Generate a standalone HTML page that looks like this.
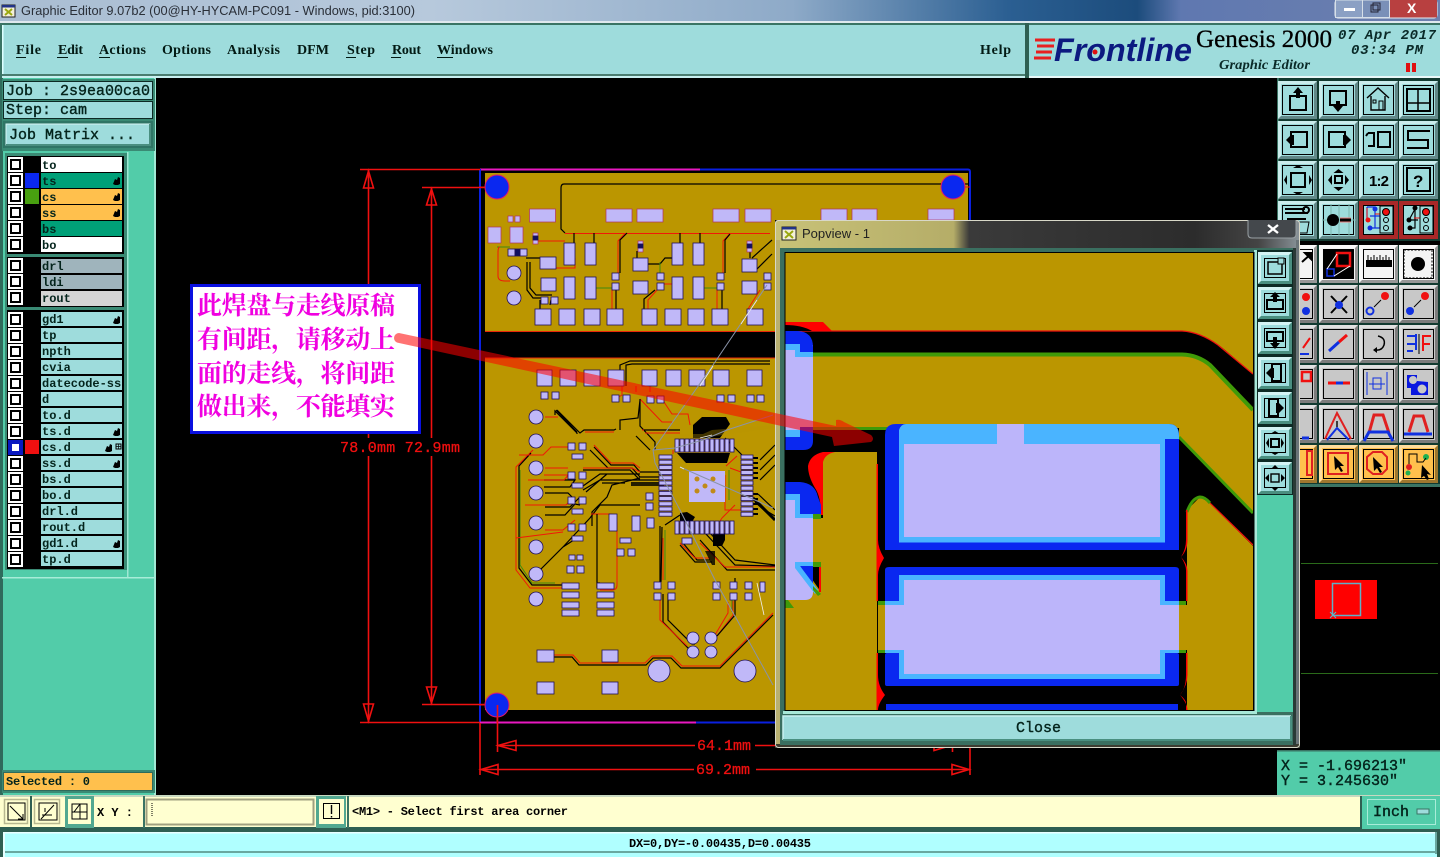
<!DOCTYPE html>
<html><head><meta charset="utf-8"><title>Graphic Editor</title>
<style>
html,body{margin:0;padding:0;background:#000;width:1440px;height:857px;overflow:hidden}
svg{display:block}
.m{font-family:"Liberation Mono",monospace;font-size:12px;font-weight:bold;fill:#04241c}
.l{font-family:"Liberation Mono",monospace;font-size:15px;fill:#04241c;stroke:#04241c;stroke-width:.4}
.mn{font-family:"Liberation Serif",serif;font-size:14px;font-weight:bold;fill:#021a14}
.dm{font-family:"Liberation Mono",monospace;font-size:15px;fill:#f01010;stroke:#f01010;stroke-width:.3}
.cn{font-family:"Liberation Serif","Noto Serif CJK SC",serif;font-size:25px;font-weight:bold;fill:#f000e0}
.p{fill:#c0b8f8;stroke:#b03060;stroke-width:.7}
.pk{fill:#c0b8f8;stroke:#20105a;stroke-width:.8}
.r{fill:none;stroke:#f01808;stroke-width:1}
.k{fill:none;stroke:#000;stroke-width:1.2}
.g{fill:none;stroke:#3f8a10;stroke-width:1}
.gl{fill:none;stroke:#8a93a8;stroke-width:1}
.i{fill:none;stroke:#000;stroke-width:2}
</style></head><body>
<svg xmlns="http://www.w3.org/2000/svg" width="1440" height="857" viewBox="0 0 1440 857">
<defs>
<linearGradient id="tb" x1="0" x2="1" y1="0" y2="0">
<stop offset="0" stop-color="#a9bdd2"/><stop offset=".3" stop-color="#b7c9dc"/><stop offset=".55" stop-color="#8eaac8"/><stop offset=".7" stop-color="#2b5f92"/><stop offset=".79" stop-color="#1c4c7c"/><stop offset=".82" stop-color="#5f78b0"/><stop offset="1" stop-color="#6d80ae"/>
</linearGradient>
<linearGradient id="pt" x1="0" x2="1" y1="0" y2="0">
<stop offset="0" stop-color="#c8c278"/><stop offset=".34" stop-color="#b5ad68"/><stop offset=".37" stop-color="#3a3a3a"/><stop offset=".8" stop-color="#2c2c2c"/><stop offset=".92" stop-color="#444"/><stop offset="1" stop-color="#8a949a"/>
</linearGradient>
<g id="b"><rect width="39" height="38"/><polygon points="0,0 39,0 36,3 3,3 3,35 0,38" fill="#fff" fill-opacity=".45"/><polygon points="39,0 39,38 0,38 3,35 36,35 36,3" fill="#000" fill-opacity=".38"/><rect x="4.5" y="4.5" width="30" height="29" fill="none" stroke="#000"/></g>
<g id="pb"><rect width="34" height="32" fill="#9edcdc"/><polygon points="0,0 34,0 31,3 3,3 3,29 0,32" fill="#d4f4f4"/><polygon points="34,0 34,32 0,32 3,29 31,29 31,3" fill="#4a8f80"/><rect x="6.5" y="6.5" width="21" height="19" fill="none" stroke="#000"/></g>
<g id="cb"><rect width="15" height="15" fill="#fff"/><rect x="2" y="2" width="11" height="11" fill="#000"/><rect x="4" y="4" width="7" height="7" fill="#fff"/></g>
<path id="h" d="M0,7 L2,2 L4,3 L5,0 L7,1 L7,3 L7,7 L5,8 L2,8 Z" fill="#000"/>
</defs>

<rect width="1440" height="857" fill="#000"/>

<!-- title bar -->
<rect width="1440" height="21" fill="url(#tb)"/>
<rect y="21" width="1440" height="2" fill="#dfe8ee"/>
<rect x="2" y="5" width="13" height="12" fill="#f4f0d8" stroke="#222"/><rect x="2" y="5" width="13" height="2.5" fill="#223388"/>
<path d="M5,9 L12,15 M12,9 L5,15" stroke="#9aa810" stroke-width="2"/>
<text x="21" y="15" font-family="Liberation Sans,sans-serif" font-size="13" fill="#2a2f38" textLength="394" lengthAdjust="spacingAndGlyphs">Graphic Editor 9.07b2 (00@HY-HYCAM-PC091 - Windows, pid:3100)</text>
<rect x="1335" y="0" width="102" height="18" rx="3" fill="#6f84ae" stroke="#e6ecf2"/>
<rect x="1335.5" y="0" width="27" height="17.5" fill="#8ba0c4" stroke="#d6dfe8"/>
<rect x="1362.5" y="0" width="27" height="17.5" fill="#7a90b8" stroke="#d6dfe8"/>
<rect x="1390" y="0" width="47" height="17.5" fill="#b84040"/>
<rect x="1344" y="8" width="11" height="3" fill="#fff"/>
<rect x="1371" y="5" width="7" height="7" fill="none" stroke="#223" stroke-width="1"/><rect x="1373" y="3" width="7" height="7" fill="none" stroke="#223" stroke-width="1"/>
<text x="1407" y="13" font-family="Liberation Sans,sans-serif" font-size="14" font-weight="bold" fill="#fff">X</text>

<!-- menu bar -->
<rect x="0" y="23" width="1440" height="55" fill="#3a7464"/>
<rect x="2" y="25" width="1023" height="50" fill="#9edcdc"/>
<rect x="2" y="25" width="1.5" height="50" fill="#dff"/>
<rect x="2" y="74" width="1023" height="2" fill="#4a7d70"/>
<rect x="1025" y="23" width="4" height="55" fill="#2f5f52"/>
<rect x="1029" y="25" width="411" height="52" fill="#9edcdc"/>
<rect x="1029" y="76" width="411" height="2" fill="#e8f8f8"/>
<rect x="2" y="76" width="1023" height="2" fill="#c8f0f0"/>
<text class="mn" x="16" y="54" textLength="25">File</text>
<text class="mn" x="58" y="54" textLength="25">Edit</text>
<text class="mn" x="99" y="54" textLength="47">Actions</text>
<text class="mn" x="162" y="54" textLength="49">Options</text>
<text class="mn" x="227" y="54" textLength="53">Analysis</text>
<text class="mn" x="297" y="54" textLength="32">DFM</text>
<text class="mn" x="347" y="54" textLength="28">Step</text>
<text class="mn" x="392" y="54" textLength="29">Rout</text>
<text class="mn" x="437" y="54" textLength="56">Windows</text>
<text class="mn" x="980" y="54" textLength="31">Help</text>
<path d="M16,57.5h10M57,57.5h11M99,57.5h11M346,57.5h10M391,57.5h10M437,57.5h16" stroke="#021a14" stroke-width="1"/>

<!-- logo -->
<path d="M1035,40 H1055 M1037,46 H1054 M1036,52 H1052 M1034,58 H1051" stroke="#e82020" stroke-width="3"/>
<text x="1054" y="61" font-family="Liberation Sans,sans-serif" font-size="32" font-style="italic" font-weight="bold" fill="#0c1a80" textLength="138" lengthAdjust="spacingAndGlyphs">Frontline</text>
<circle cx="1095" cy="52" r="2.5" fill="#e01010"/>
<text x="1196" y="47" font-family="Liberation Serif,serif" font-size="25" fill="#000" stroke="#000" stroke-width=".3" textLength="136" lengthAdjust="spacingAndGlyphs">Genesis 2000</text>
<text x="1219" y="69" font-family="Liberation Serif,serif" font-size="14" font-style="italic" font-weight="bold" fill="#0a2a28" textLength="91" lengthAdjust="spacingAndGlyphs">Graphic Editor</text>
<text x="1338" y="39" font-family="Liberation Mono,monospace" font-size="14" font-style="italic" font-weight="bold" fill="#0a2a28" textLength="98">07 Apr 2017</text>
<text x="1351" y="54" font-family="Liberation Mono,monospace" font-size="14" font-style="italic" font-weight="bold" fill="#0a2a28" textLength="72">03:34 PM</text>
<rect x="1406" y="63" width="4" height="9" fill="#e01010"/><rect x="1412" y="63" width="4" height="9" fill="#e01010"/>

<!-- left panel -->
<rect x="0" y="78" width="155" height="718" fill="#52cca9"/>
<rect x="0" y="78" width="3" height="718" fill="#2f6b5c"/>
<rect x="154" y="78" width="2" height="718" fill="#9fe8d4"/>
<rect x="2" y="79" width="153" height="72" fill="#3a8a74"/>
<rect x="3.5" y="81.5" width="149" height="18" fill="#9edcdc" stroke="#0d2a24"/>
<rect x="3.5" y="101.5" width="149" height="17" fill="#9edcdc" stroke="#0d2a24"/>
<text class="l" x="6" y="95">Job : 2s9ea00ca0</text>
<text class="l" x="6" y="114">Step: cam</text>
<rect x="3" y="121" width="150" height="27" fill="#2f7565"/>
<rect x="6" y="124" width="144" height="21" fill="#9edcdc" stroke="#d8f6f6"/>
<path d="M150,124 V145 H6" fill="none" stroke="#4a8f80" stroke-width="2"/>
<text class="l" x="9" y="139">Job Matrix ...</text>

<rect x="5" y="153" width="122" height="417" fill="#3a8a74"/>
<rect x="127" y="152" width="27" height="425" fill="#52cca9"/>
<rect x="127" y="152" width="1.5" height="425" fill="#9fe8d4"/>
<rect x="2" y="577" width="152" height="1.5" fill="#a8ecd8"/>

<rect x="7" y="156" width="117" height="98" fill="#000"/>
<rect x="7" y="257" width="117" height="50" fill="#000"/>
<rect x="7" y="310" width="117" height="259" fill="#000"/>

<!-- group 1 -->
<use href="#cb" x="8" y="157"/><rect x="41" y="157" width="81" height="15" fill="#fff"/><text class="m" x="42" y="169">to</text>
<use href="#cb" x="8" y="173"/><rect x="25" y="173" width="14" height="15" fill="#0a28f0"/><rect x="41" y="173" width="81" height="15" fill="#00a078"/><text class="m" x="42" y="185">ts</text><use href="#h" x="113" y="177"/>
<use href="#cb" x="8" y="189"/><rect x="25" y="189" width="14" height="15" fill="#48a010"/><rect x="41" y="189" width="81" height="15" fill="#ffc04d"/><text class="m" x="42" y="201">cs</text><use href="#h" x="113" y="193"/>
<use href="#cb" x="8" y="205"/><rect x="41" y="205" width="81" height="15" fill="#ffc04d"/><text class="m" x="42" y="217">ss</text><use href="#h" x="113" y="209"/>
<use href="#cb" x="8" y="221"/><rect x="41" y="221" width="81" height="15" fill="#00a078"/><text class="m" x="42" y="233">bs</text>
<use href="#cb" x="8" y="237"/><rect x="41" y="237" width="81" height="15" fill="#fff"/><text class="m" x="42" y="249">bo</text>
<!-- group 2 -->
<use href="#cb" x="8" y="258"/><rect x="41" y="259" width="81" height="14" fill="#9fb4bc"/><text class="m" x="42" y="270">drl</text>
<use href="#cb" x="8" y="274"/><rect x="41" y="275" width="81" height="14" fill="#9fb4bc"/><text class="m" x="42" y="286">ldi</text>
<use href="#cb" x="8" y="290"/><rect x="41" y="291" width="81" height="15" fill="#d4d4d4"/><text class="m" x="42" y="302">rout</text>
<!-- group 3 -->
<g fill="#9edcdc">
<rect x="41" y="312" width="81" height="14"/><rect x="41" y="328" width="81" height="14"/><rect x="41" y="344" width="81" height="14"/><rect x="41" y="360" width="81" height="14"/><rect x="41" y="376" width="81" height="14"/><rect x="41" y="392" width="81" height="14"/><rect x="41" y="408" width="81" height="14"/><rect x="41" y="424" width="81" height="14"/><rect x="41" y="440" width="81" height="14"/><rect x="41" y="456" width="81" height="14"/><rect x="41" y="472" width="81" height="14"/><rect x="41" y="488" width="81" height="14"/><rect x="41" y="504" width="81" height="14"/><rect x="41" y="520" width="81" height="14"/><rect x="41" y="536" width="81" height="14"/><rect x="41" y="552" width="81" height="14"/>
</g>
<use href="#cb" x="8" y="312"/><use href="#cb" x="8" y="328"/><use href="#cb" x="8" y="344"/><use href="#cb" x="8" y="360"/><use href="#cb" x="8" y="376"/><use href="#cb" x="8" y="392"/><use href="#cb" x="8" y="408"/><use href="#cb" x="8" y="424"/><use href="#cb" x="8" y="440"/><use href="#cb" x="8" y="456"/><use href="#cb" x="8" y="472"/><use href="#cb" x="8" y="488"/><use href="#cb" x="8" y="504"/><use href="#cb" x="8" y="520"/><use href="#cb" x="8" y="536"/><use href="#cb" x="8" y="552"/>
<rect x="8" y="440" width="15" height="15" fill="#0a18c0"/><rect x="12" y="444" width="7" height="7" fill="#fff"/><rect x="25" y="440" width="14" height="14" fill="#f01010"/>
<text class="m" x="42" y="323">gd1</text><text class="m" x="42" y="339">tp</text><text class="m" x="42" y="355">npth</text><text class="m" x="42" y="371">cvia</text><text class="m" x="42" y="387">datecode-ss</text><text class="m" x="42" y="403">d</text><text class="m" x="42" y="419">to.d</text><text class="m" x="42" y="435">ts.d</text><text class="m" x="42" y="451">cs.d</text><text class="m" x="42" y="467">ss.d</text><text class="m" x="42" y="483">bs.d</text><text class="m" x="42" y="499">bo.d</text><text class="m" x="42" y="515">drl.d</text><text class="m" x="42" y="531">rout.d</text><text class="m" x="42" y="547">gd1.d</text><text class="m" x="42" y="563">tp.d</text>
<use href="#h" x="113" y="316"/><use href="#h" x="113" y="428"/><use href="#h" x="105" y="444"/><use href="#h" x="113" y="460"/><use href="#h" x="113" y="540"/>
<rect x="116" y="444" width="5" height="5" fill="none" stroke="#000"/><path d="M118.5,444v5M116,446.5h5" stroke="#000" stroke-width=".7"/>

<rect x="2" y="770" width="153" height="23" fill="#3a8a74"/>
<rect x="3.5" y="772.5" width="149" height="18" fill="#ffc04d" stroke="#2f6b5c"/>
<text class="m" x="6" y="785" textLength="84">Selected : 0</text>

<!-- PCB outline -->
<path d="M480,169.5 H700" stroke="#e818c0" stroke-width="2"/>
<path d="M700,169.5 H968 Q970,169.5 970,172 V220" stroke="#0a20e0" stroke-width="2" fill="none"/>
<path d="M480,169 V723" stroke="#0a20e0" stroke-width="2"/>
<path d="M480,722.5 H696" stroke="#e818c0" stroke-width="2"/>
<path d="M696,722.5 H775" stroke="#0a20e0" stroke-width="2"/>

<!-- boards -->
<rect x="485" y="173" width="290" height="158" fill="#bb9600"/>
<rect x="775" y="173" width="193" height="47" fill="#bb9600"/>
<rect x="485" y="358" width="290" height="352" fill="#bb9600"/>
<path d="M485,331.5 H775 M485,358 H775" stroke="#e82808" stroke-width="1"/>

<!-- traces top -->
<g>
<path class="k" d="M968,184 H564 Q561,184 561,188 V229 L565,233"/>
<path class="r" d="M565,233.5 H625 L618,241 V273 M627,233.5 H730 L723,241 V273 M730,233.5 H770 M533,241 H565"/>
<path class="k" d="M574,233 V243 M594,233 V243 M680,233 V243 M700,233 V243 M627,233 L620,240 V273 M730,234 L725,240 V273"/>
<path class="r" d="M556,268 H575 V258"/>
<path class="k" d="M526,258 H540 M527,262 V290 L533,298 H541 M530,262 V288 L536,295 H552 M648,264 H660 L665,258 H672"/>
<path class="g" d="M660,262 V273 M596,288 H612 M704,288 H717 M497,247 H510"/>
<path class="r" d="M500,247 Q498,247 498,252 V276 Q498,281 505,281 H510 M612,290 V309 M660,284 H672 M760,290 L748,309 M657,290 L648,300 V309 M717,290 V309"/>
<path class="k" d="M616,290 V309 M722,290 V309 M644,309 V299 L655,290 M756,270 L772,254 M752,258 L772,240"/>
<path class="k" d="M637,251 V258 M750,250 V258 M540,312 V300 M550,305 L551,300"/>
</g>
<!-- pads top -->
<circle cx="497" cy="187" r="12" fill="#0a28f0" stroke="#e01870"/>
<circle cx="953" cy="187" r="12" fill="#0a28f0" stroke="#e01870"/>
<path d="M479,187 H485 M965,187 H970" stroke="#f01010"/>
<g class="pk">
<rect x="529.5" y="209" width="26" height="13" class="p"/><rect x="606" y="209" width="26" height="13" class="p"/><rect x="637" y="209" width="26" height="13" class="p"/><rect x="713" y="209" width="26" height="13" class="p"/><rect x="745" y="209" width="26" height="13" class="p"/><rect x="821" y="209" width="26" height="13" class="p"/><rect x="852" y="209" width="25" height="13" class="p"/><rect x="928" y="209" width="26" height="11" class="p"/>
<rect x="488" y="227" width="13" height="16" class="p"/><rect x="510" y="227" width="13" height="16" class="p"/>
<rect x="508" y="216" width="5" height="6" class="p"/><rect x="515" y="216" width="5" height="6" class="p"/>
<rect x="533" y="233" width="5" height="3" class="p"/><rect x="533" y="240" width="5" height="4" class="p"/><rect x="533" y="236" width="5" height="4" fill="#101060"/>
<rect x="638" y="241" width="5" height="3" class="p"/><rect x="638" y="248" width="5" height="4" class="p"/><rect x="638" y="244" width="5" height="4" fill="#101060"/>
<rect x="747" y="241" width="5" height="3" class="p"/><rect x="747" y="248" width="5" height="4" class="p"/><rect x="747" y="244" width="5" height="4" fill="#101060"/>
<rect x="564" y="243" width="11" height="22"/><rect x="585" y="243" width="11" height="22"/><rect x="672" y="243" width="11" height="22"/><rect x="693" y="243" width="11" height="22"/>
<rect x="564" y="277" width="11" height="22"/><rect x="585" y="277" width="11" height="22"/><rect x="672" y="277" width="11" height="22"/><rect x="693" y="277" width="11" height="22"/>
<rect x="540" y="257" width="16" height="12"/><rect x="633" y="258" width="15" height="13"/><rect x="742" y="259" width="15" height="13"/>
<rect x="541" y="278" width="15" height="13"/><rect x="633" y="281" width="15" height="13"/><rect x="742" y="281" width="15" height="13"/>
<rect x="612" y="273" width="7" height="7"/><rect x="612" y="283" width="7" height="7"/><rect x="657" y="273" width="7" height="7"/><rect x="657" y="283" width="7" height="7"/><rect x="717" y="273" width="7" height="7"/><rect x="717" y="283" width="7" height="7"/><rect x="764" y="273" width="7" height="7"/><rect x="764" y="283" width="7" height="7"/>
<rect x="535" y="309" width="16" height="16"/><rect x="559" y="309" width="16" height="16"/><rect x="584" y="309" width="16" height="16"/><rect x="607" y="309" width="16" height="16"/><rect x="642" y="309" width="15" height="16"/><rect x="665" y="309" width="16" height="16"/><rect x="688" y="309" width="16" height="16"/><rect x="712" y="309" width="16" height="16"/><rect x="747" y="309" width="16" height="16"/>
<rect x="541" y="297" width="7" height="7"/><rect x="551" y="297" width="7" height="7"/>
<rect x="508" y="249" width="7" height="7"/><rect x="520" y="249" width="7" height="7"/><rect x="515" y="249" width="5" height="7" fill="#101060"/>
<circle cx="514" cy="273" r="7"/><circle cx="514" cy="298" r="7"/>
</g>

<!-- traces bottom -->
<path class="r" d="M533,450 L516,467 V570 L530,588 H562"/>
<path class="k" d="M531,453 L519,466 V568 L532,585 H562"/>
<path class="g" d="M520,470 V565 L532,583 H555"/>
<path class="r" d="M554,655 H573 L580,663 H645 L652,656 H672 L682,666 H720 L773,613"/>
<path class="k" d="M554,657 H572 L579,665 H646 L653,658 H671 L681,668 H720 L773,615"/>
<path class="k" d="M555,415 V411 L577,433 V434 M557,410 L580,433 L584,430 H614 L616,429 M556,410 L577,432"/>
<path class="r" d="M585,432 H614 M545,417 H558 M545,468 H553 M553,468 H568 M570,447 H551 L543,455 L519,455"/>
<path class="k" d="M594,447 L611,465 H634 L640,472 H659 M590,450 L608,468 H632 L640,477 H659 M583,470 H630 L640,480 H659"/>
<path class="r" d="M594,445 L611,463 H633 L640,468 M583,468 H632 L640,472"/>
<path class="k" d="M583,486 L600,474 H640 M586,492 L607,474 M583,490 L600,480 H640 M544,480 H575 L570,487 H544 M545,493 H568 L575,500 M545,507 H570 L580,497 M545,515 H565 L575,504 L580,505"/>
<path class="r" d="M544,475 H568 M544,505 H566 L574,497 M525,505 H557 M528,480 H564 L571,472 M545,530 H563 L575,520 M516,538 L563,532"/>
<path class="k" d="M536,574 L563,547 L580,536 M563,547 L590,518 L600,505 H640 M592,526 V512 L607,497 L612,485 L640,478 M602,483 H625"/>
<path class="r" d="M591,514 H610 Q617,514 617,525 V585 Q617,590 612,590 H600"/>
<path class="k" d="M597,514 V588 M597,583 H600"/>
<path class="r" d="M622,370 V395 L617,398 M636,386 V392 M650,386 V392 M640,399 L662,422 H672 M662,399 L672,414 H688 L690,425"/>
<path class="k" d="M624,386 L620,375 V365 L630,361 H770 M626,386 V365 L632,364 H770 M640,400 L638,418 L620,420 V430 M640,399 V426 L655,442 L655,450"/>
<path class="r" d="M642,430 H677 M645,433 H680"/>
<path class="k" d="M644,430 H680 M636,436 L650,450"/>
<path class="k" d="M660,526 V585 M662,527 L661,582 M665,525 L680,515 M668,594 V620 L692,644 H695 M663,594 V622 L688,648 H693"/>
<path class="g" d="M665,530 V580"/>
<path class="r" d="M660,594 V620 L687,646 M663,538 V580"/>
<path class="k" d="M683,543 L697,560 H710 M680,545 L695,562 H712 M700,540 L727,570 H775 M705,533 L735,565 L775,566 M710,533 L735,560 L775,565 M735,578 V585"/>
<path class="r" d="M680,543 L695,558 H710 M700,543 L725,567 H775"/>
<path class="r" d="M728,602 V613 L715,635 M733,601 V615 L717,636"/>
<path class="g" d="M732,600 V612"/>
<path class="k" d="M735,600 V615 L717,636"/>
<path class="k" d="M725,438 L742,455 M760,460 L775,445 M760,470 L775,455 M760,480 L775,465 M758,494 L775,510 M755,502 L775,520 M765,510 L775,516"/>
<path d="M753,498 L775,520" stroke="#000" stroke-width="3"/>
<path class="r" d="M725,475 V510 H741 M730,468 L741,472 M726,466 L737,456 M673,454 V450 M735,505 L722,518 M722,518 L720,521"/>
<path class="g" d="M729,470 V500"/>
<path d="M753,458 H758 M753,463 H758 M753,468 H758 M753,473 H758 M753,478 H758 M753,494 H758 M753,499 H758 M753,504 H758 M753,509 H758 M753,514 H758" stroke="#000" stroke-width="2"/>

<!-- black blobs -->
<path d="M693,425 L702,417 H726 L730,424 L720,438 H693 Z M677,453 H730 L727,463 H686 Z" fill="#000"/>
<path d="M673,437 L680,434 H703 L712,430 L775,425 V428 L700,438 H675 Z" fill="#bb9600" fill-opacity=".35"/>
<path d="M713,533 H725 V540 L722,546 H713 Z M680,513 L687,512 L695,517 L692,522 H680 Z" fill="#000"/>
<path d="M631,482 H664 V486 H631 Z" fill="#000" opacity=".8"/>
<path d="M705,551 H715 V565 H712 Z" fill="#000" opacity=".8"/>

<!-- pads bottom -->
<g class="pk">
<rect x="537" y="370" width="15" height="16"/><rect x="560" y="370" width="16" height="16"/><rect x="584" y="370" width="16" height="16"/><rect x="608" y="370" width="16" height="16"/><rect x="642" y="370" width="15" height="16"/><rect x="666" y="370" width="15" height="16"/><rect x="689" y="370" width="16" height="16"/><rect x="713" y="370" width="16" height="16"/><rect x="747" y="370" width="15" height="16"/>
<rect x="541" y="392" width="7" height="7"/><rect x="552" y="392" width="7" height="7"/><rect x="612" y="395" width="7" height="7"/><rect x="623" y="395" width="7" height="7"/><rect x="647" y="396" width="7" height="7"/><rect x="657" y="396" width="7" height="7"/><rect x="717" y="395" width="7" height="7"/><rect x="728" y="395" width="7" height="7"/><rect x="747" y="395" width="7" height="7"/><rect x="757" y="395" width="7" height="7"/>
<circle cx="536" cy="417" r="7"/><circle cx="536" cy="441" r="7"/><circle cx="536" cy="468" r="7"/><circle cx="536" cy="493" r="7"/><circle cx="536" cy="523" r="7"/><circle cx="536" cy="547" r="7"/><circle cx="536" cy="574" r="7"/><circle cx="536" cy="599" r="7"/>
<rect x="568" y="443" width="7" height="7"/><rect x="579" y="443" width="7" height="7"/><rect x="568" y="472" width="7" height="7"/><rect x="579" y="472" width="7" height="7"/><rect x="568" y="497" width="7" height="7"/><rect x="579" y="497" width="7" height="7"/><rect x="568" y="524" width="7" height="7"/><rect x="579" y="524" width="7" height="7"/>
<rect x="572" y="454" width="11" height="5"/><rect x="572" y="483" width="11" height="5"/><rect x="572" y="509" width="11" height="5"/><rect x="572" y="536" width="11" height="5"/>
<rect x="689" y="471" width="36" height="31" fill="#c0b8f8" stroke="none"/>
<rect x="646" y="493" width="7" height="7"/><rect x="646" y="503" width="7" height="7"/><rect x="609" y="514" width="8" height="17"/><rect x="632" y="516" width="8" height="15"/><rect x="647" y="518" width="7" height="10"/>
<rect x="620" y="538" width="11" height="5"/><rect x="617" y="549" width="7" height="7"/><rect x="628" y="549" width="7" height="7"/><rect x="682" y="538" width="10" height="6"/>
<rect x="562" y="583" width="17" height="6"/><rect x="562" y="592" width="17" height="6"/><rect x="562" y="602" width="17" height="6"/><rect x="562" y="610" width="17" height="6"/>
<rect x="597" y="583" width="17" height="6"/><rect x="597" y="592" width="17" height="6"/><rect x="597" y="602" width="17" height="6"/><rect x="597" y="610" width="17" height="6"/>
<rect x="569" y="555" width="6" height="5"/><rect x="577" y="555" width="6" height="5"/><rect x="567" y="566" width="7" height="7"/><rect x="577" y="566" width="7" height="7"/>
<rect x="654" y="582" width="7" height="7"/><rect x="668" y="582" width="7" height="7"/><rect x="654" y="593" width="7" height="7"/><rect x="668" y="593" width="7" height="7"/>
<rect x="713" y="582" width="7" height="7"/><rect x="713" y="593" width="7" height="7"/><rect x="730" y="582" width="7" height="7"/><rect x="730" y="593" width="7" height="7"/><rect x="745" y="582" width="7" height="7"/><rect x="745" y="593" width="7" height="7"/><rect x="760" y="582" width="5" height="10"/>
<circle cx="693" cy="638" r="6"/><circle cx="711" cy="638" r="6"/><circle cx="693" cy="652" r="6"/><circle cx="711" cy="652" r="6"/>
<circle cx="659" cy="671" r="11"/><circle cx="745" cy="671" r="11"/>
<rect x="537" y="650" width="17" height="12"/><rect x="602" y="650" width="16" height="12"/><rect x="537" y="682" width="17" height="12"/><rect x="602" y="682" width="16" height="12"/>
<!-- IC fingers top -->
<rect x="675" y="439" width="4" height="13"/><rect x="680" y="439" width="4" height="13"/><rect x="685" y="439" width="4" height="13"/><rect x="690" y="439" width="4" height="13"/><rect x="695" y="439" width="4" height="13"/><rect x="700" y="439" width="4" height="13"/><rect x="705" y="439" width="4" height="13"/><rect x="710" y="439" width="4" height="13"/><rect x="715" y="439" width="4" height="13"/><rect x="720" y="439" width="4" height="13"/><rect x="725" y="439" width="4" height="13"/><rect x="730" y="439" width="4" height="13"/>
<!-- IC fingers bottom -->
<rect x="675" y="521" width="4" height="13"/><rect x="680" y="521" width="4" height="13"/><rect x="685" y="521" width="4" height="13"/><rect x="690" y="521" width="4" height="13"/><rect x="695" y="521" width="4" height="13"/><rect x="700" y="521" width="4" height="13"/><rect x="705" y="521" width="4" height="13"/><rect x="710" y="521" width="4" height="13"/><rect x="715" y="521" width="4" height="13"/><rect x="720" y="521" width="4" height="13"/><rect x="725" y="521" width="4" height="13"/><rect x="730" y="521" width="4" height="13"/>
<!-- IC fingers left -->
<rect x="659" y="455" width="13" height="4"/><rect x="659" y="460.2" width="13" height="4"/><rect x="659" y="465.4" width="13" height="4"/><rect x="659" y="470.6" width="13" height="4"/><rect x="659" y="475.8" width="13" height="4"/><rect x="659" y="481" width="13" height="4"/><rect x="659" y="486.2" width="13" height="4"/><rect x="659" y="491.4" width="13" height="4"/><rect x="659" y="496.6" width="13" height="4"/><rect x="659" y="501.8" width="13" height="4"/><rect x="659" y="507" width="13" height="4"/><rect x="659" y="512.2" width="13" height="4"/>
<!-- IC fingers right -->
<rect x="741" y="455" width="12" height="4"/><rect x="741" y="460.2" width="12" height="4"/><rect x="741" y="465.4" width="12" height="4"/><rect x="741" y="470.6" width="12" height="4"/><rect x="741" y="475.8" width="12" height="4"/><rect x="741" y="481" width="12" height="4"/><rect x="741" y="486.2" width="12" height="4"/><rect x="741" y="491.4" width="12" height="4"/><rect x="741" y="496.6" width="12" height="4"/><rect x="741" y="501.8" width="12" height="4"/><rect x="741" y="507" width="12" height="4"/><rect x="741" y="512.2" width="12" height="4"/>
</g>
<g fill="#c08a18"><circle cx="697" cy="479" r="2.5"/><circle cx="713" cy="479" r="2.5"/><circle cx="705" cy="486" r="2.5"/><circle cx="697" cy="491" r="2.5"/><circle cx="713" cy="491" r="2.5"/></g>
<circle cx="497" cy="705" r="12" fill="#0a28f0" stroke="#e01870"/>
<path d="M479,705 H485 M497,717 V723" stroke="#f01010"/>

<!-- gray thin ratsnest -->
<path class="gl" d="M767,285 L713,365 L653,450 L655,463 L680,510 L715,580 L773,685"/>
<path class="gl" d="M653,450 L675,448 L703,440 L727,430 L773,415 M680,467 L773,508"/>
<path d="M757,300 L741,324 M713,366 L700,386 M700,438 L712,435 M680,467 L684,469 M757,583 L764,615" stroke="#f0f0f0" stroke-width=".8"/>

<!-- dimensions -->
<g fill="none" stroke="#f01010" stroke-width="1.6">
<path d="M360,169.5 H480 M422,187.5 H485 M422,704.5 H485 M360,722.5 H480"/>
<path d="M368.5,170 V722 M431.5,188 V704"/>
<path d="M368.5,171 L363.5,188 H373.5 Z M368.5,721 L363.5,704 H373.5 Z M431.5,189 L426.5,205 H436.5 Z M431.5,703 L426.5,687 H436.5 Z"/>
<path d="M497.5,705 V752 M952.5,705 V752 M480,723 V775 M970,723 V775"/>
<path d="M497,745.5 H952 M480,769.5 H970"/>
<path d="M498,745.5 L516,740.5 V750.5 Z M951,745.5 L934,740.5 V750.5 Z M481,769.5 L498,764.5 V774.5 Z M969,769.5 L952,764.5 V774.5 Z"/>
</g>
<rect x="339" y="438" width="123" height="18" fill="#000"/>
<text class="dm" x="340" y="452" textLength="120">78.0mm 72.9mm</text>
<rect x="695" y="738" width="60" height="14" fill="#000"/><text class="dm" x="697" y="750">64.1mm</text>
<rect x="694" y="762" width="62" height="14" fill="#000"/><text class="dm" x="696" y="774">69.2mm</text>

<!-- annotation -->
<rect x="191.5" y="285.5" width="228" height="147" fill="#fff" stroke="#0a10e0" stroke-width="3"/>
<text class="cn" x="197" y="314" textLength="198">此焊盘与走线原稿</text>
<text class="cn" x="197" y="348" textLength="198">有间距，请移动上</text>
<text class="cn" x="197" y="382" textLength="198">面的走线，将间距</text>
<text class="cn" x="197" y="415" textLength="198">做出来，不能填实</text>

<!-- right tool panel -->
<rect x="1277" y="78" width="163" height="409" fill="#123a30"/>
<rect x="1277" y="241" width="163" height="4" fill="#000"/>
<rect x="1277" y="78" width="2" height="409" fill="#3a7464"/>
<rect x="1277" y="484" width="163" height="3" fill="#3a7464"/>
<g fill="#9edcdc">
<use href="#b" x="1278" y="81"/><use href="#b" x="1319" y="81"/><use href="#b" x="1359" y="81"/><use href="#b" x="1399" y="81"/>
<use href="#b" x="1278" y="121"/><use href="#b" x="1319" y="121"/><use href="#b" x="1359" y="121"/><use href="#b" x="1399" y="121"/>
<use href="#b" x="1278" y="161"/><use href="#b" x="1319" y="161"/><use href="#b" x="1359" y="161"/><use href="#b" x="1399" y="161"/>
<use href="#b" x="1278" y="201"/><use href="#b" x="1319" y="201"/>
</g>
<rect x="1359" y="201" width="39" height="38" fill="#a82828"/><rect x="1363.500" y="205.500" width="30" height="29" fill="#9edcdc" stroke="#000"/>
<rect x="1399" y="201" width="39" height="38" fill="#a82828"/><rect x="1403.500" y="205.500" width="30" height="29" fill="#9edcdc" stroke="#000"/>
<g fill="#f4f4f4"><use href="#b" x="1278" y="245"/><use href="#b" x="1319" y="245"/><use href="#b" x="1359" y="245"/><use href="#b" x="1399" y="245"/></g>
<g fill="#c8c8c8">
<use href="#b" x="1278" y="285"/><use href="#b" x="1319" y="285"/><use href="#b" x="1359" y="285"/><use href="#b" x="1399" y="285"/>
<use href="#b" x="1278" y="325"/><use href="#b" x="1319" y="325"/><use href="#b" x="1359" y="325"/><use href="#b" x="1399" y="325"/>
<use href="#b" x="1278" y="365"/><use href="#b" x="1319" y="365"/><use href="#b" x="1359" y="365"/><use href="#b" x="1399" y="365"/>
<use href="#b" x="1278" y="405"/><use href="#b" x="1319" y="405"/><use href="#b" x="1359" y="405"/><use href="#b" x="1399" y="405"/>
</g>
<g fill="#ffc04d"><use href="#b" x="1278" y="445"/><use href="#b" x="1319" y="445"/><use href="#b" x="1359" y="445"/><use href="#b" x="1399" y="445"/></g>

<!-- icons row1 -->
<rect x="1290" y="96" width="16" height="14" class="i"/><path d="M1298,87 l-5,6 h3 v5 h4 v-5 h3 Z" fill="#000"/>
<rect x="1330" y="91" width="16" height="14" class="i"/><path d="M1338,112 l-5,-6 h3 v-5 h4 v5 h3 Z" fill="#000"/>
<path d="M1367,98 L1378,88 L1389,98 M1371,96 V110 H1385 V96" class="i" style="stroke-width:1.4"/><rect x="1373" y="100" width="3" height="3" fill="none" stroke="#000"/><rect x="1379" y="101" width="4" height="9" fill="none" stroke="#000"/>
<rect x="1407" y="89" width="23" height="22" class="i"/><path d="M1407,103 H1430 M1418,89 V111" stroke="#000" stroke-width="1.5"/>
<!-- row2 -->
<rect x="1291" y="132" width="16" height="15" class="i"/><path d="M1286,140 l5,-5 h3 v10 h-3 Z" fill="#000"/>
<rect x="1329" y="132" width="16" height="15" class="i"/><path d="M1351,140 l-5,-5 h-3 v10 h3 Z" fill="#000"/>
<rect x="1378" y="132" width="12" height="15" class="i"/><path d="M1368,133 h6 v13 h-6 M1368,133 l-2,3" fill="none" stroke="#000" stroke-width="2"/>
<path d="M1430,131 H1408 V140 H1428 V148 H1407" class="i"/>
<!-- row3 -->
<rect x="1291" y="173" width="14" height="14" class="i"/><path d="M1298,165 l-5,3 h10 Z M1298,195 l-5,-3 h10 Z M1284,180 l3,-5 v10 Z M1312,180 l-3,-5 v10 Z" fill="#000"/>
<rect x="1335" y="176" width="7" height="7" class="i"/><path d="M1338.5,169 l-5,4 h10 Z M1338.5,191 l-5,-4 h10 Z M1328,180 l4,-5 v10 Z M1349,180 l-4,-5 v10 Z" fill="#000"/>
<text x="1369" y="186" font-family="Liberation Sans,sans-serif" font-size="15" font-weight="bold" fill="#000" textLength="20">1:2</text>
<rect x="1407" y="168" width="23" height="23" class="i"/><text x="1413" y="187" font-family="Liberation Sans,sans-serif" font-size="17" font-weight="bold" fill="#000">?</text>
<!-- row4 -->
<path d="M1285,209 H1305 M1285,213 H1308 M1287,219 H1306" stroke="#000" stroke-width="2"/><circle cx="1306" cy="210" r="3" fill="none" stroke="#000" stroke-width="2"/><path d="M1296,222 H1309 L1307,233 H1298 Z" fill="none" stroke="#000"/>
<path d="M1322,220 H1356 M1339,204 V236 M1331,204 V236 M1349,204 V236" stroke="#7fb8b0" stroke-width="1"/>
<path d="M1340,220 H1351" stroke="#f08080" stroke-width="5"/><path d="M1340,220 H1351" stroke="#000" stroke-width="3"/><circle cx="1333" cy="220" r="6" fill="#000"/>
<path d="M1367,207 H1375 V228 H1370 M1367,207 V220 M1370,216 H1380 V228 H1373" fill="none" stroke="#1030e0" stroke-width="1.2"/><path d="M1367,208 V220 M1375,214 H1380" stroke="#f01010"/>
<circle cx="1368" cy="220" r="2.5" fill="#f01010"/><circle cx="1375" cy="209" r="2.5" fill="#1030e0"/><circle cx="1370" cy="228" r="2.5" fill="#1030e0"/>
<rect x="1380" y="206" width="13" height="27" fill="none" stroke="#000"/><circle cx="1386" cy="212" r="3.5" fill="#f01010" stroke="#000"/><circle cx="1386" cy="220" r="2.5" fill="none" stroke="#000"/><circle cx="1386" cy="228" r="2.5" fill="none" stroke="#000"/>
<path d="M1409,220 L1415,209 V228 H1409 M1409,220 H1418" fill="none" stroke="#000" stroke-width="1.2"/><circle cx="1409" cy="220" r="2.5" fill="#000"/><circle cx="1415" cy="208" r="2.5" fill="#000"/><circle cx="1410" cy="228" r="2.5" fill="#000"/><path d="M1414,218 h6 v-3" stroke="#f01010" fill="none"/>
<rect x="1420" y="206" width="13" height="27" fill="none" stroke="#000"/><circle cx="1426" cy="212" r="3.5" fill="#f01010" stroke="#000"/><circle cx="1426" cy="220" r="2.5" fill="none" stroke="#000"/><circle cx="1426" cy="228" r="2.5" fill="none" stroke="#000"/>
<!-- row5 -->
<path d="M1302,262 L1312,253 M1312,253 l-7,0 l7,7 Z" stroke="#000" stroke-width="2" fill="#000"/>
<rect x="1323" y="249" width="30" height="30" fill="#000"/><rect x="1337" y="253" width="13" height="13" fill="none" stroke="#f01010" stroke-width="2.5"/><rect x="1327" y="269" width="7" height="7" fill="none" stroke="#1030e0" stroke-width="1.5"/><path d="M1327,269 L1337,254 M1334,276 L1350,266" stroke="#fff"/>
<rect x="1366" y="260" width="26" height="7" fill="#000"/><path d="M1368,255v6M1371,257v4M1374,255v6M1377,257v4M1380,255v6M1383,257v4M1386,255v6M1389,257v4" stroke="#000"/>
<rect x="1404" y="250" width="28" height="28" fill="none" stroke="#000" stroke-dasharray="2 1.5"/><circle cx="1418" cy="264" r="7" fill="#000"/>
<!-- row6 -->
<circle cx="1306" cy="297" r="4" fill="#f01010"/><circle cx="1306" cy="311" r="4" fill="#1030e0"/>
<path d="M1331,296 L1347,313 M1347,296 L1331,313" stroke="#000" stroke-width="2"/><circle cx="1339" cy="305" r="4" fill="#1030e0"/>
<circle cx="1385" cy="296" r="4" fill="#f01010"/><circle cx="1370" cy="311" r="3.5" fill="none" stroke="#1030e0" stroke-width="2"/><path d="M1374,307 L1381,300" stroke="#000"/>
<circle cx="1425" cy="296" r="4" fill="#f01010"/><circle cx="1410" cy="311" r="4" fill="#1030e0"/><path d="M1414,307 L1421,300" stroke="#000"/>
<!-- row7 -->
<path d="M1303,348 L1310,338" stroke="#f01010" stroke-width="2"/><path d="M1300,354 H1309" stroke="#1030e0" stroke-width="2"/>
<path d="M1329,351 L1339,342" stroke="#1030e0" stroke-width="3"/><path d="M1339,342 L1347,335" stroke="#f01010" stroke-width="3"/>
<path d="M1378,336 Q1386,338 1384,345 Q1382,351 1375,350" fill="none" stroke="#000" stroke-width="1.5"/><path d="M1373,350 l4,-3 v6 Z" fill="#000"/>
<path d="M1407,336 H1416 M1407,344 H1415 M1416,334 V350 M1407,351 H1413" stroke="#1030e0" stroke-width="2" fill="none"/><path d="M1419,334 V354" stroke="#000"/><path d="M1423,351 V336 H1431 M1423,344 H1430" stroke="#f01010" stroke-width="2" fill="none"/>
<!-- row8 -->
<rect x="1302" y="372" width="9" height="9" fill="none" stroke="#f01010" stroke-width="2.5"/>
<path d="M1328,383 H1350" stroke="#f01010" stroke-width="3"/><path d="M1336,383 H1343" stroke="#1030e0" stroke-width="3"/>
<path d="M1367,372 V395 M1387,372 V395 M1369,384 H1385" stroke="#1030e0" fill="none"/><rect x="1373" y="378" width="8" height="11" fill="none" stroke="#1030e0"/>
<path d="M1407,375 L1417,375 L1417,381 L1428,382 L1428,395 H1411 V388 H1407 Z" fill="#0a18e0"/><circle cx="1413" cy="380" r="4" fill="#c8c8c8"/><circle cx="1422" cy="389" r="4.5" fill="#c8c8c8"/>
<!-- row9 -->
<path d="M1302,438 H1309" stroke="#1030e0" stroke-width="3"/>
<path d="M1325,439 L1337,413 L1351,439" fill="none" stroke="#e02020" stroke-width="2"/><path d="M1327,440 L1337,428 L1349,440" fill="none" stroke="#1030e0" stroke-width="2"/><path d="M1337,427 v-6" stroke="#000" stroke-width="1.4"/>
<path d="M1369,433 L1374,415 H1383 L1389,433" fill="none" stroke="#e02020" stroke-width="3"/><path d="M1364,441 L1369,432 H1388 L1393,441" fill="none" stroke="#1030e0" stroke-width="3"/>
<path d="M1409,432 L1414,416 H1423 L1428,432" fill="none" stroke="#e02020" stroke-width="3"/><path d="M1404,434 H1432" stroke="#1030e0" stroke-width="3"/>
<!-- row10 -->
<rect x="1307" y="451" width="5" height="24" fill="none" stroke="#e02020" stroke-width="2"/>
<rect x="1328" y="453" width="20" height="21" fill="none" stroke="#e02020" stroke-width="2"/><path d="M1334,456 L1344,466 L1340,466 L1343,471 L1341,472 L1338,467 L1335,470 Z" fill="#000"/>
<path d="M1373,452 H1382 L1387,457 V469 L1382,474 H1373 L1367,469 V457 Z" fill="none" stroke="#e02020" stroke-width="2"/><path d="M1373,457 L1383,467 L1379,467 L1382,472 L1380,473 L1377,468 L1374,471 Z" fill="#000"/>
<circle cx="1409" cy="467" r="3" fill="#e02020"/><circle cx="1426" cy="457" r="3" fill="#20b050"/><circle cx="1408" cy="473" r="2.5" fill="#20b050"/>
<path d="M1409,464 V454 H1417 V462 H1423 L1426,458" fill="none" stroke="#000"/><path d="M1422,465 L1431,475 L1427,474 L1429,479 L1427,480 L1424,476 L1421,478 Z" fill="#000"/>

<!-- right lower -->
<path d="M1301,563.5 H1438 M1301,673.5 H1438" stroke="#2a6a1a"/>
<rect x="1315" y="580" width="62" height="39" fill="#ff0000"/>
<rect x="1332.5" y="583.5" width="28" height="32" fill="none" stroke="#60b0c8" stroke-width="1.5"/>
<path d="M1330,612 l6,6 m0,-6 l-6,6" stroke="#50c0d0"/>
<rect x="1438" y="487" width="2" height="264" fill="#000"/>
<rect x="1277" y="750" width="163" height="46" fill="#52cca9"/>
<rect x="1277" y="750" width="163" height="1.5" fill="#3a7464"/>
<text class="l" x="1281" y="770">X = -1.696213"</text>
<text class="l" x="1281" y="785">Y = 3.245630"</text>

<!-- bottom bars -->
<rect x="0" y="795" width="1440" height="34" fill="#ffffd0"/>
<rect x="0" y="827" width="1440" height="30" fill="#2f5f52"/>
<rect x="0" y="795" width="1440" height="2" fill="#c8d8c0"/>
<rect x="4.5" y="799.5" width="23" height="24" fill="none" stroke="#b8b890" stroke-width="1.5"/><rect x="8" y="803" width="17" height="17" fill="none" stroke="#000"/><path d="M10,806 L23,819 M23,814 V819 H18" fill="none" stroke="#000"/>
<rect x="30" y="796" width="2" height="32" fill="#2f5f52"/>
<rect x="34.5" y="799.5" width="25" height="24" fill="none" stroke="#b8b890" stroke-width="1.5"/><rect x="39" y="803" width="18" height="17" fill="none" stroke="#000"/><path d="M41,819 L54,805 M42,815 H52 M45,808 V812" stroke="#000"/>
<rect x="65" y="796" width="29" height="32" fill="#52a890"/><rect x="68" y="799" width="23" height="25" fill="#ffffd0"/><rect x="72" y="804" width="15" height="15" fill="none" stroke="#000"/><path d="M72,812 H87 M80,804 V819 M74,812 L80,804" stroke="#000"/>
<text class="m" x="97" y="816" style="fill:#000">X Y :</text>
<rect x="143" y="796" width="2" height="32" fill="#3a7464"/>
<rect x="146.500" y="799.500" width="167" height="25" fill="#ffffd0" stroke="#a0a080" stroke-width="2"/>
<path d="M152,803 V816" stroke="#000" stroke-dasharray="1 1"/>
<rect x="316" y="796" width="30" height="32" fill="#52a890"/><rect x="319" y="799" width="25" height="25" fill="#ffffd0"/><rect x="323.500" y="803.500" width="16" height="15" fill="none" stroke="#000"/><path d="M331.500,805 V814 M331.500,816 V817.500" stroke="#000" stroke-width="1.4"/>
<rect x="347" y="796" width="2" height="32" fill="#3a7464"/>
<text class="m" x="352" y="815" style="fill:#000" textLength="216">&lt;M1&gt; - Select first area corner</text>
<rect x="1360" y="796" width="80" height="33" fill="#52cca9"/>
<rect x="1360" y="796" width="2" height="33" fill="#2f5f52"/>
<rect x="1367.500" y="799.500" width="68" height="25" fill="#52cca9" stroke="#a8ecd8"/>
<text class="l" x="1373" y="816">Inch</text>
<rect x="1417" y="809" width="12" height="5" fill="#9edcdc" stroke="#3a7464"/>
<rect x="3" y="832" width="1434" height="25" fill="#b0ffff"/>
<rect x="3" y="832" width="1434" height="1.500" fill="#e8ffff"/>
<rect x="3" y="832" width="2" height="25" fill="#e8ffff"/>
<rect x="5" y="851" width="1430" height="2" fill="#6aa8a0"/>
<rect x="1435" y="832" width="2" height="22" fill="#6aa8a0"/>
<text class="m" x="629" y="847" style="fill:#000" textLength="182">DX=0,DY=-0.00435,D=0.00435</text>

<!-- popup -->
<rect x="775" y="220" width="525" height="528" rx="3" fill="url(#pt)"/>
<rect x="775" y="240" width="5" height="508" fill="#b8b070"/>
<rect x="1296" y="240" width="4" height="508" fill="#6a7478"/>
<rect x="775" y="744" width="525" height="4" fill="#3c3c30"/>
<rect x="775.500" y="220.500" width="524" height="527" rx="3" fill="none" stroke="#d8d8c8"/>
<rect x="782" y="227" width="14" height="13" fill="#f4f0d8" stroke="#222"/><rect x="782" y="227" width="14" height="2.500" fill="#223388"/>
<path d="M785,231 L793,238 M793,231 L785,238" stroke="#9aa810" stroke-width="2"/>
<text x="802" y="238" font-family="Liberation Sans,sans-serif" font-size="13" fill="#222" textLength="68" lengthAdjust="spacingAndGlyphs">Popview - 1</text>
<path d="M1248,220 V234 Q1248,238 1252,238 H1292 Q1296,238 1296,234 V220" fill="#44484c" stroke="#99a0a4"/>
<path d="M1268,225 L1278,233 M1278,225 L1268,233" stroke="#fff" stroke-width="2.400"/>

<rect x="780" y="248" width="516" height="497" fill="#3a6f60"/>
<rect x="1254" y="250" width="3" height="464" fill="#a8e8d8"/>
<rect x="783" y="711" width="474" height="3" fill="#a8e8d8"/>
<rect x="785" y="252" width="469" height="459" fill="#000"/>

<svg x="785" y="253" width="468" height="457" viewBox="785 253 468 457" overflow="hidden">
<rect x="785" y="253" width="468" height="457" fill="#bb9600"/>
<!-- top band -->
<path d="M785,331 H1182 Q1205,333 1225,350 L1253,374 V409 L1210,365 Q1200,356 1182,353 H785 Z" fill="#000"/>
<path d="M785,331 H1182 Q1200,332 1218,345 L1253,374" fill="none" stroke="#f01010" stroke-width="1.200"/>
<path d="M810,354.500 H1182 Q1198,355 1210,365 L1253,410" fill="none" stroke="#3f9a08" stroke-width="4"/>
<path d="M785,322 H823 L832,331 H785 Z" fill="#f00"/>
<path d="M785,325 Q802,325 812,331 H785 Z" fill="#000"/>
<!-- black central -->
<path d="M785,427 H900 V710 H877 V452 H785 Z" fill="#000"/>
<path d="M785,450 H823 V518 H785 Z" fill="#000"/>
<rect x="877" y="428" width="302" height="282" fill="#000"/>
<path d="M1179,437 L1253,513 V546 L1210,503 L1200,497 L1187,510 V710 H1179 Z" fill="#000"/>
<path d="M1187,512 Q1192,498 1200,497 Q1205,497 1210,503" fill="none" stroke="#3f9a08" stroke-width="3"/>
<path d="M1210,503 L1253,545" stroke="#f01010" stroke-width="1.200"/>
<path d="M1179,437 L1253,513" stroke="#3f9a08" stroke-width="3"/>
<path d="M813,428.500 H890" stroke="#3f9a08" stroke-width="3"/>
<!-- left finger -->
<path d="M823,462 Q825,452 835,452 H868 Q877,452 877,464 V710 H823 V518 Z" fill="#bb9600"/>
<path d="M823,452 Q810,455 808,466 Q808,476 815,488 Q821,497 821,515 H823 V462 Q825,454 835,452 Z" fill="#f00"/>
<path d="M876.500,464 H878 V540 Q878,548 884,558 Q878,568 878,575 V601 H876.500 Z" fill="#f00"/>
<path d="M876.500,653 H878 V675 Q878,686 885,695 Q878,704 878,710 H876.500 Z" fill="#f00"/>
<path d="M1187.500,510 V540 Q1187.500,550 1181,557 Q1187.500,564 1187.500,571 V601 H1186 V570 Q1186,565 1181,557 Q1186,549 1186,540 V510 Z" fill="#f00"/>
<path d="M1187.500,653 V675 Q1187.500,685 1180,695 Q1187.500,704 1187.500,710 H1186 V703 Q1186,700 1180,695 Q1186,688 1186,675 V653 Z" fill="#f00"/>
<!-- left pad -->
<rect x="785" y="345" width="28" height="85" fill="#bcb5fa"/>
<path d="M785,331 H798 Q813,332 813,347 V357 H795 V350 H785 Z" fill="#0a28f0"/>
<path d="M785,344 H800 V352 H813 V357 H795 V350 H785 Z" fill="#4ab4ff"/>
<path d="M800,427 H813 V441 Q813,450 803,450 H785 V437 H800 Z" fill="#0a28f0"/>
<path d="M785,430 H800 V437 H785 Z" fill="#4ab4ff"/>
<path d="M785,482 H800 Q815,483 818,497 L821,505 V515 H800 V494 H785 Z" fill="#0a28f0"/>
<path d="M785,494 H800 V514 H813 V518 H795 V500 H785 Z" fill="#4ab4ff"/>
<path d="M785,500 H795 V518 H813 V592 Q813,600 805,600 H785 Z" fill="#bcb5fa"/>
<rect x="813" y="514" width="8" height="5" fill="#3f9a08"/>
<path d="M800,562 H821 V592 Z" fill="#000"/>
<path d="M800,566 H813 V586 Z" fill="#0a28f0"/>
<path d="M795,562 H813 V566 H800 L818,590 L815,594 L795,568 Z" fill="#4ab4ff"/>
<path d="M821,567 V592 L819,592 V567 Z" fill="#f00"/>
<path d="M813,562 H821 V567 H813 Z M813,586 L821,594 L818,596 L813,590 Z" fill="#3f9a08"/>
<path d="M785,600 H788 L794,608 H785 Z" fill="#3f9a08"/>
<!-- big pad 1 -->
<path d="M885,435 Q885,424 896,424 H1169 Q1179,424 1179,436 V550 H885 Z" fill="#0a28f0"/>
<path d="M899,430 Q901,424 906,424 H1169 Q1179,424 1179,436 V439 H1165 V542.500 H899 Z" fill="#4ab4ff"/>
<rect x="904" y="444" width="256" height="93" fill="#bcb5fa"/>
<rect x="997" y="424" width="27" height="20" fill="#bcb5fa"/>
<rect x="1165" y="439" width="14" height="111" fill="#0a28f0"/>
<!-- big pad 2 -->
<path d="M885,570 Q885,567 889,567 H1175 Q1179,567 1179,570 V601 H885 Z" fill="#0a28f0"/>
<path d="M899,575 H1165 V601 H1179 V605 H885 V601 H899 Z" fill="#4ab4ff"/>
<rect x="904" y="580" width="256" height="25" fill="#bcb5fa"/>
<rect x="878" y="605" width="7" height="45" fill="#bb9600"/><rect x="1179" y="605" width="8" height="45" fill="#bb9600"/>
<rect x="885" y="605" width="294" height="45" fill="#bcb5fa"/>
<rect x="878" y="601" width="7" height="4" fill="#3f9a08"/><rect x="1179" y="601" width="7" height="4" fill="#3f9a08"/>
<rect x="885" y="653" width="294" height="33" rx="2" fill="#0a28f0"/>
<path d="M885,650 H904 V674 H1160 V650 H1179 V653 H1165 V679 H899 V653 H885 Z" fill="#4ab4ff"/>
<rect x="904" y="650" width="256" height="24" fill="#bcb5fa"/>
<rect x="878" y="650" width="7" height="3" fill="#3f9a08"/><rect x="1179" y="650" width="7" height="3" fill="#3f9a08"/>
<rect x="886" y="704" width="292" height="6" fill="#0a28f0"/>
</svg>
<rect x="785" y="252.500" width="469" height="458" fill="none" stroke="#000"/>
<rect x="1257" y="250" width="37" height="462" fill="#0d2a24"/>
<rect x="1257" y="495" width="36" height="217" fill="#52cca9"/>
<use href="#pb" x="1258" y="252"/><use href="#pb" x="1258" y="287"/><use href="#pb" x="1258" y="322"/><use href="#pb" x="1258" y="357"/><use href="#pb" x="1258" y="392"/><use href="#pb" x="1258" y="427"/><use href="#pb" x="1258" y="462"/>
<rect x="1268" y="262" width="14" height="12" fill="none" stroke="#000" stroke-width="1.500"/><rect x="1278" y="258" width="6" height="6" fill="#9edcdc" stroke="#000"/>
<rect x="1267" y="300" width="16" height="9" fill="none" stroke="#000" stroke-width="2"/><path d="M1275,292 l-5,5 h3 v5 h4 v-5 h3 Z" fill="#000"/>
<rect x="1267" y="332" width="16" height="9" fill="none" stroke="#000" stroke-width="2"/><path d="M1275,349 l-5,-6 h3 v-6 h4 v6 h3 Z" fill="#000"/>
<rect x="1272" y="364" width="9" height="17" fill="none" stroke="#000" stroke-width="2"/><path d="M1266,373 l5,-5 h3 v10 h-3 Z" fill="#000"/>
<rect x="1269" y="399" width="9" height="17" fill="none" stroke="#000" stroke-width="2"/><path d="M1284,408 l-5,-5 h-3 v10 h3 Z" fill="#000"/>
<rect x="1271" y="439" width="8" height="8" fill="none" stroke="#000" stroke-width="2"/><path d="M1275,431 l-5,3 h10 Z M1275,455 l-5,-3 h10 Z M1266,443 l3,-5 v10 Z M1284,443 l-3,-5 v10 Z" fill="#000"/>
<rect x="1271" y="474" width="8" height="8" fill="none" stroke="#000" stroke-width="1.400"/><path d="M1275,465 l-4,4 h8 Z M1275,491 l-4,-4 h8 Z M1265,478 l4,-4 v8 Z M1285,478 l-4,-4 v8 Z" fill="#000"/>
<rect x="1293" y="248" width="3" height="497" fill="#2a3a36"/>
<rect x="783" y="716" width="508" height="24" fill="#9edcdc"/>
<path d="M783,740 V716 H1291" fill="none" stroke="#c8f0f0" stroke-width="1.500"/>
<path d="M1291,716 V740 H783" fill="none" stroke="#4a8f80" stroke-width="2"/>
<text class="l" x="1016" y="732">Close</text>

<!-- arrow overlay -->
<path d="M399,333 L836,426 L836,420 Q840,419 844,422 L871,435 Q875,439 871,442 L834,446 L832,437 L399,343 A5,5 0 0 1 399,333 Z" fill="#ff0000" fill-opacity=".55"/>
</svg>
</body></html>
